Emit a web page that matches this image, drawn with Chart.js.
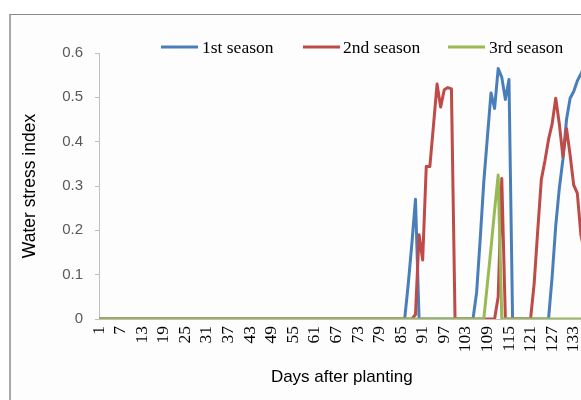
<!DOCTYPE html>
<html>
<head>
<meta charset="utf-8">
<script src="https://cdn.jsdelivr.net/npm/chart.js@4.4.1/dist/chart.umd.min.js"></script>
<style>
  html, body { margin: 0; padding: 0; background: #fff; width: 581px; height: 400px; overflow: hidden; }
  #frame { position: absolute; left: 9px; top: 14px; right: -120px; bottom: -120px; overflow: hidden;
           border-top: 1px solid #8a8a8a; border-left: 2px solid #a8a8a8; background: #fdfdfd; }
  #chart { position: absolute; left: 0; top: 0; }
</style>
</head>
<body>
<div id="frame"><canvas id="chart" width="580" height="385"></canvas></div>
<script>
// days after planting (one value per day)
const days = Array.from({ length: 136 }, (_, i) => i + 1);
const shownDays = [1, 7, 13, 19, 25, 31, 37, 43, 49, 55, 61, 67, 73, 79, 85, 91, 97, 103, 109, 115, 121, 127, 133];

const season1 = [
  0, 0, 0, 0, 0, 0, 0, 0, 0, 0,
  0, 0, 0, 0, 0, 0, 0, 0, 0, 0,
  0, 0, 0, 0, 0, 0, 0, 0, 0, 0,
  0, 0, 0, 0, 0, 0, 0, 0, 0, 0,
  0, 0, 0, 0, 0, 0, 0, 0, 0, 0,
  0, 0, 0, 0, 0, 0, 0, 0, 0, 0,
  0, 0, 0, 0, 0, 0, 0, 0, 0, 0,
  0, 0, 0, 0, 0, 0, 0, 0, 0, 0,
  0, 0, 0, 0, 0, 0, 0.08, 0.17, 0.27, 0,
  0, 0, 0, 0, 0, 0, 0, 0, 0, 0,
  0, 0, 0, 0, 0, 0.06, 0.18, 0.31, 0.41, 0.51,
  0.475, 0.565, 0.545, 0.495, 0.54, 0, 0, 0, 0, 0,
  0, 0, 0, 0, 0, 0, 0.095, 0.21, 0.295, 0.36,
  0.45, 0.498, 0.513, 0.537, 0.553, 0.57
];

const season2 = [
  0, 0, 0, 0, 0, 0, 0, 0, 0, 0,
  0, 0, 0, 0, 0, 0, 0, 0, 0, 0,
  0, 0, 0, 0, 0, 0, 0, 0, 0, 0,
  0, 0, 0, 0, 0, 0, 0, 0, 0, 0,
  0, 0, 0, 0, 0, 0, 0, 0, 0, 0,
  0, 0, 0, 0, 0, 0, 0, 0, 0, 0,
  0, 0, 0, 0, 0, 0, 0, 0, 0, 0,
  0, 0, 0, 0, 0, 0, 0, 0, 0, 0,
  0, 0, 0, 0, 0, 0, 0, 0, 0.01, 0.19,
  0.133, 0.344, 0.344, 0.436, 0.53, 0.478, 0.517, 0.522, 0.519, 0,
  0, 0, 0, 0, 0, 0, 0, 0, 0, 0,
  0, 0.05, 0.317, 0, 0, 0, 0, 0, 0, 0,
  0, 0.08, 0.2, 0.315, 0.357, 0.405, 0.44, 0.498, 0.44, 0.366,
  0.43, 0.37, 0.302, 0.284, 0.19, 0.15
];

const season3 = [
  0, 0, 0, 0, 0, 0, 0, 0, 0, 0,
  0, 0, 0, 0, 0, 0, 0, 0, 0, 0,
  0, 0, 0, 0, 0, 0, 0, 0, 0, 0,
  0, 0, 0, 0, 0, 0, 0, 0, 0, 0,
  0, 0, 0, 0, 0, 0, 0, 0, 0, 0,
  0, 0, 0, 0, 0, 0, 0, 0, 0, 0,
  0, 0, 0, 0, 0, 0, 0, 0, 0, 0,
  0, 0, 0, 0, 0, 0, 0, 0, 0, 0,
  0, 0, 0, 0, 0, 0, 0, 0, 0, 0,
  0, 0, 0, 0, 0, 0, 0, 0, 0, 0,
  0, 0, 0, 0, 0, 0, 0, 0, 0.08, 0.16,
  0.245, 0.325, 0, 0, 0, 0, 0, 0, 0, 0,
  0, 0, 0, 0, 0, 0, 0, 0, 0, 0,
  0, 0, 0, 0, 0, 0
];

const seriesNames = ['1st season', '2nd season', '3rd season'];
const colors = ['#4a7ebb', '#be4b48', '#98b954'];

// legend drawn by hand so it can sit right on top of the plot
const legendPlugin = {
  id: 'topLegend',
  afterDraw(chart) {
    const ctx = chart.ctx;
    const cv = chart.canvas.getBoundingClientRect();
    const items = [[161, 202], [303, 343], [448, 489]]; // page x of line start, text start
    const y = 47 - cv.top;
    ctx.save();
    ctx.font = '17.5px "Liberation Serif"';
    ctx.textBaseline = 'middle';
    ctx.fillStyle = '#000';
    chart.data.datasets.forEach((ds, i) => {
      const x0 = items[i][0] - cv.left;
      ctx.strokeStyle = ds.borderColor;
      ctx.lineWidth = 3;
      ctx.beginPath();
      ctx.moveTo(x0, y);
      ctx.lineTo(x0 + 37, y);
      ctx.stroke();
      ctx.fillText(ds.label, items[i][1] - cv.left, y + 1);
    });
    ctx.restore();
  }
};

const lineDs = (i, data, order) => ({
  label: seriesNames[i], data, borderColor: colors[i], backgroundColor: colors[i],
  borderWidth: 3, pointRadius: 0, tension: 0, borderJoinStyle: 'round', order
});

new Chart(document.getElementById('chart'), {
  type: 'line',
  data: {
    labels: days,
    datasets: [lineDs(0, season1, 2), lineDs(1, season2, 1), lineDs(2, season3, 0)]
  },
  options: {
    responsive: false,
    animation: false,
    devicePixelRatio: 1,
    layout: { padding: { top: 38, right: 6.5, left: 0, bottom: 0 } },
    plugins: { legend: { display: false }, tooltip: { enabled: false } },
    scales: {
      x: {
        type: 'category',
        offset: false,
        grid: { display: false, drawTicks: false },
        border: { color: '#bfbfbf' },
        ticks: {
          autoSkip: false, maxRotation: 90, minRotation: 90, padding: 7, color: '#000',
          font: { family: 'Liberation Serif', size: 17.5 },
          callback: (v, i) => shownDays.includes(days[i]) ? String(days[i]) : ''
        },
        title: {
          display: true, text: 'Days after planting', color: '#000',
          font: { family: 'Liberation Sans', size: 17 }, padding: { top: 0, bottom: 12 }
        },
        afterFit: s => { s.height = 81; s.paddingLeft = 0; s.paddingRight = 0; }
      },
      y: {
        min: 0, max: 0.6,
        ticks: { stepSize: 0.1, padding: 12, color: '#595959', font: { family: 'Liberation Sans', size: 15 } },
        grid: { drawOnChartArea: false, tickLength: 4, color: '#bfbfbf' },
        border: { color: '#bfbfbf' },
        title: {
          display: true, text: 'Water stress index', color: '#000',
          font: { family: 'Liberation Sans', size: 17.5 }, padding: { top: 9, bottom: 0 }
        },
        afterFit: s => { s.width = 88; s.paddingTop = 0; s.paddingBottom = 0; }
      }
    }
  },
  plugins: [legendPlugin]
});
</script>
</body>
</html>
